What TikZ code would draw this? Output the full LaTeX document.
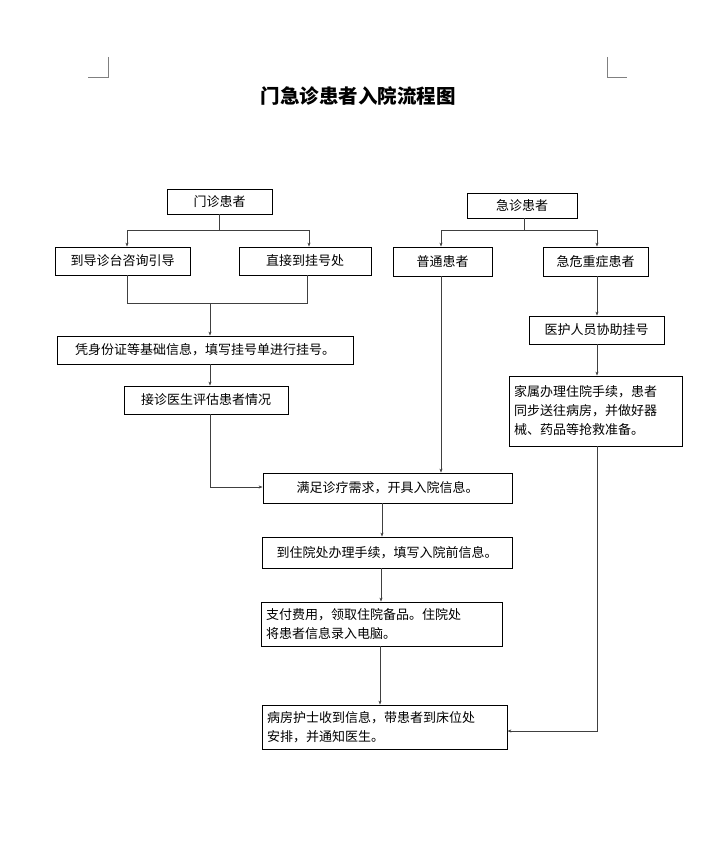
\documentclass[tikz,border=0pt]{standalone}
\usepackage{fontspec}
\setmainfont{Noto Sans CJK SC}
\usetikzlibrary{arrows.meta}
\begin{document}
\begin{tikzpicture}[x=1pt,y=-1pt,
  box/.style={draw=black,line width=0.8pt,inner sep=0pt,font=\fontsize{13}{19}\selectfont},
  ln/.style={draw=black!75,line width=0.8pt},
  ar/.style={ln,-{Stealth[length=4pt,width=3pt]}}]
\useasboundingbox (0,0) rectangle (713,851);
\fill[white] (0,0) rectangle (713,851);
\draw[black!50,line width=0.5pt] (108,57)--(108,77)--(88,77) (607,57)--(607,77)--(627,77);
\node[font=\fontsize{19.5}{22}\selectfont\bfseries] (title) at (358,96) {门急诊患者入院流程图};
\newcommand{\bx}[6]{\node[box,minimum width=#4-#2,minimum height=#5-#3] (#1) at ({(#2+#4)/2},{(#3+#5)/2}) {#6};}
\newcommand{\bm}[6]{\node[box,minimum width=#4-#2,minimum height=#5-#3,text width=#4-#2-10,align=left,inner xsep=5pt] (#1) at ({(#2+#4)/2},{(#3+#5)/2}) {#6};}
\bx{mz}{167}{189}{272}{214}{门诊患者}
\bx{dd}{55}{247}{190}{275}{到导诊台咨询引导}
\bx{zj}{239}{247}{371}{275}{直接到挂号处}
\bx{pz}{57}{336}{353}{364}{凭身份证等基础信息，填写挂号单进行挂号。}
\bx{jz}{124}{386}{288}{414}{接诊医生评估患者情况}
\bx{mm}{263}{473}{512}{503}{满足诊疗需求，开具入院信息。}
\bx{dz}{262}{537}{512}{568}{到住院处办理手续，填写入院前信息。}
\bm{zf}{261}{602}{502}{646}{支付费用，领取住院备品。住院处\\将患者信息录入电脑。}
\bm{bf}{262}{705}{507}{749}{病房护士收到信息，带患者到床位处\\安排，并通知医生。}
\bx{jzh}{467}{193}{577}{218}{急诊患者}
\bx{pt}{393}{247}{492}{276}{普通患者}
\bx{jw}{543}{247}{648}{276}{急危重症患者}
\bx{yh}{529}{316}{664}{344}{医护人员协助挂号}
\bm{js}{509}{376}{682}{446}{家属办理住院手续，患者\\同步送往病房，并做好器\\械、药品等抢救准备。}
% outpatient
\coordinate (a1) at (219,230);
\draw[ln] (mz.south -| a1) -- (a1);
\draw[ar] (a1) -| (dd.north -| 127,0);
\draw[ar] (a1) -| (zj.north -| 309,0);
\coordinate (m1) at (127,303); \coordinate (m2) at (307,303);
\draw[ln] (dd.south -| m1) -- (m1) -- (m2) -- (zj.south -| m2);
\draw[ar] (210,303) -- (pz.north -| 210,0);
\draw[ar] (pz.south -| 210,0) -- (jz.north -| 210,0);
\coordinate (c1) at (210,487);
\draw[ar] (jz.south -| c1) -- (c1) -- (mm.west |- c1);
% emergency
\coordinate (e1) at (524,230);
\draw[ln] (jzh.south -| e1) -- (e1);
\draw[ar] (e1) -| (pt.north -| 441,0);
\draw[ar] (e1) -| (jw.north -| 597,0);
\draw[ar] (pt.south -| 441,0) -- (mm.north -| 441,0);
\draw[ar] (jw.south -| 597,0) -- (yh.north -| 597,0);
\draw[ar] (yh.south -| 597,0) -- (js.north -| 597,0);
\coordinate (c2) at (597,731);
\draw[ar] (js.south -| c2) -- (c2) -- (bf.east |- c2);
% main chain
\draw[ar] (mm.south -| 382,0) -- (dz.north -| 382,0);
\draw[ar] (dz.south -| 381,0) -- (zf.north -| 381,0);
\draw[ar] (zf.south -| 380,0) -- (bf.north -| 380,0);
\end{tikzpicture}
\end{document}
